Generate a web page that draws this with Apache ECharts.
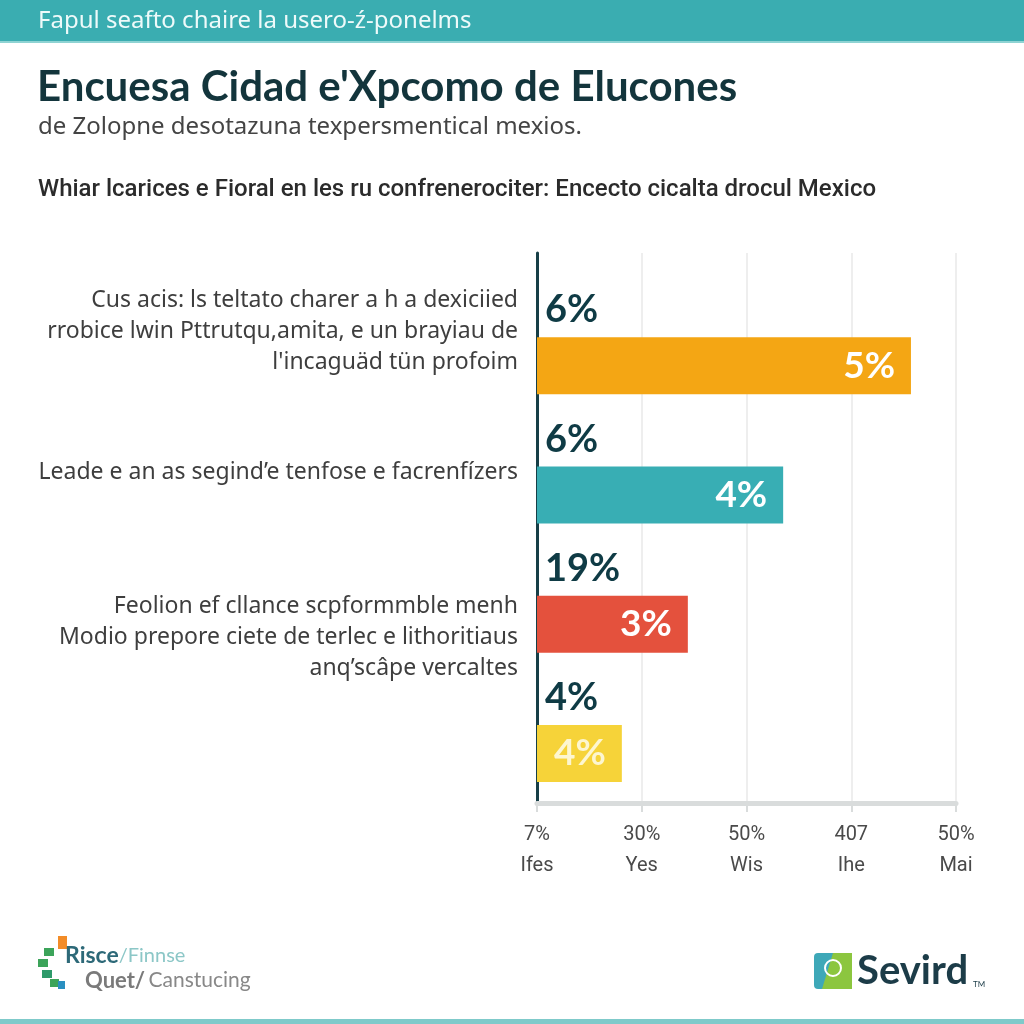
<!DOCTYPE html>
<html>
<head>
<meta charset="utf-8">
<script src="https://cdn.jsdelivr.net/npm/echarts@6/dist/echarts.min.js"></script>
<style>html,body{margin:0;padding:0;background:#fff}#c{width:1024px;height:1024px}</style>
</head>
<body>
<div id="c"></div>
<script>
// ---- data ----
var headerText = 'Fapul seafto chaire la usero-ź-ponelms';
var titleText = "Encuesa Cidad e'Xpcomo de Elucones";
var subtitleText = 'de Zolopne desotazuna texpersmentical mexios.';
var questionText = 'Whiar lcarices e Fioral en les ru confrenerociter: Encecto cicalta drocul Mexico';

var categories = [
  'Cus acis: ls teltato charer a h a dexiciied\nrrobice lwin Pttrutqu,amita, e un brayiau de\nl\'incaguäd tün profoim',
  'Leade e an as segind\u2019e tenfose e facrenfízers',
  'Feolion ef cllance scpformmble menh\nModio prepore ciete de terlec e lithoritiaus\nanq\u2019scâpe vercaltes',
  ''
];
var barValues = [3.57, 2.35, 1.44, 0.81];
var insideLabels = ['5%', '4%', '3%', '4%'];
var topLabels = ['6%', '6%', '19%', '4%'];
var barColors = ['#F4A614', '#38AEB4', '#E4513D', '#F6D339'];
var tickPct = ['7%', '30%', '50%', '407', '50%'];
var tickWord = ['Ifes', 'Yes', 'Wis', 'Ihe', 'Mai'];

// ---- chart ----
var chart = echarts.init(document.getElementById('c'), null, {renderer: 'canvas'});

// vertical nudge of each category label block (spacer height; negative = below)
var labelSpacer = [68, 44, -26, 0];

var option = {
  backgroundColor: '#ffffff',
  animation: false,
  graphic: [
    {type: 'rect', left: 0, top: 0, shape: {width: 1024, height: 41}, style: {fill: '#3AADB1'}, z: 0},
    {type: 'rect', left: 0, top: 41, shape: {width: 1024, height: 2}, style: {fill: '#8fd3d3'}, z: 0},
    {type: 'text', left: 38, top: 9, style: {text: headerText, fill: '#eefafa', font: '24px "Noto Sans", Roboto, sans-serif'}},
    {type: 'text', left: 37, top: 66, style: {text: titleText, fill: '#13353c', font: 'bold 42px Lato, "Open Sans", sans-serif'}},
    {type: 'text', left: 38, top: 115, style: {text: subtitleText, fill: '#444', font: '24px "Noto Sans", Roboto, sans-serif'}},
    {type: 'text', left: 38, top: 178, style: {text: questionText, fill: '#2b2b2b', font: '500 24px Roboto, "Noto Sans", sans-serif'}},
    // footer left logo
    {type: 'rect', left: 58, top: 936, shape: {width: 9, height: 13}, style: {fill: '#F28C28'}},
    {type: 'rect', left: 44, top: 948, shape: {width: 10, height: 8}, style: {fill: '#3CA45A'}},
    {type: 'rect', left: 38, top: 959, shape: {width: 10, height: 8}, style: {fill: '#3CA45A'}},
    {type: 'rect', left: 42, top: 970, shape: {width: 10, height: 8}, style: {fill: '#2E9A6A'}},
    {type: 'rect', left: 50, top: 979, shape: {width: 9, height: 8}, style: {fill: '#3CA45A'}},
    {type: 'rect', left: 58, top: 981, shape: {width: 7, height: 8}, style: {fill: '#2a8fc0'}},
    {type: 'text', left: 65, top: 944, style: {
      text: '{a|Risce}{b|/Finnse}\n{c|Quet/} {d|Canstucing}',
      rich: {
        a: {font: 'bold 23px Lato, sans-serif', fill: '#2d6978', lineHeight: 25},
        b: {font: '20px Lato, sans-serif', fill: '#8cc7c7', lineHeight: 25},
        c: {font: 'bold 22px Lato, sans-serif', fill: '#7a7a7a', lineHeight: 25, padding: [0,0,0,20]},
        d: {font: '21px Lato, sans-serif', fill: '#888', lineHeight: 25}
      }
    }},
    // footer right logo
    {type: 'rect', left: 814, top: 953, shape: {width: 38, height: 36, r: 4}, style: {fill: '#3EA8B8'}},
    {type: 'polygon', shape: {points: [[833, 953], [852, 953], [852, 989], [822, 989]]}, style: {fill: '#8CC63F'}},
    {type: 'circle', shape: {cx: 833, cy: 968, r: 8}, style: {fill: 'none', stroke: '#ffffff', lineWidth: 2}},
    {type: 'text', left: 857, top: 951, style: {text: 'Sevird', fill: '#1c3c48', font: 'bold 40px Lato, "Open Sans", sans-serif'}},
    {type: 'text', left: 973, top: 980, style: {text: 'TM', fill: '#1c3c48', font: '8px Lato, sans-serif'}},
    {type: 'rect', left: 0, top: 1019, shape: {width: 1024, height: 5}, style: {fill: '#7fcaca'}}
  ],
  grid: [
    {left: 537, right: 68, top: 253, bottom: 221, containLabel: false},
    {left: 537, right: 68, top: 301, bottom: 206, containLabel: false}
  ],
  xAxis: [
    {
      gridIndex: 0, type: 'value', min: 0, max: 4, interval: 1,
      axisLine: {show: true, lineStyle: {color: '#d9dcdc', width: 5}},
      axisTick: {show: true, length: 9, lineStyle: {color: '#d9dcdc', width: 2}},
      splitLine: {show: true, lineStyle: {color: '#e8e8e8', width: 1.5}},
      axisLabel: {
        margin: 16,
        lineHeight: 31,
        color: '#4a4a4a',
        fontSize: 20,
        fontFamily: 'Roboto, "Noto Sans", sans-serif',
        formatter: function (v) {
          var i = Math.round(v);
          return tickPct[i] + '\n' + tickWord[i];
        }
      }
    },
    {gridIndex: 1, type: 'value', min: 0, max: 4, interval: 1, show: false}
  ],
  yAxis: [
    {
      gridIndex: 0, type: 'value', min: 0, max: 1,
      axisLine: {show: true, onZero: false, lineStyle: {color: '#173f47', width: 3}},
      axisTick: {show: false}, axisLabel: {show: false}, splitLine: {show: false}
    },
    {
      gridIndex: 1, type: 'category', inverse: true, data: categories,
      axisLine: {show: false}, axisTick: {show: false}, splitLine: {show: false},
      axisLabel: {
        margin: 19, align: 'right', color: '#3e3e3e', fontSize: 23, lineHeight: 31,
        fontFamily: '"Noto Sans", Roboto, sans-serif',
        formatter: function (v, i) {
          var s = labelSpacer[i];
          if (!v) return '';
          if (s > 0) return v + '\n{sp' + i + '| }';
          if (s < 0) return '{sp' + i + '| }\n' + v;
          return v;
        },
        rich: {
          sp0: {height: 68, lineHeight: 68, fontSize: 1},
          sp1: {height: 44, lineHeight: 44, fontSize: 1},
          sp2: {height: 26, lineHeight: 26, fontSize: 1}
        }
      }
    }
  ],
  series: [
    {
      type: 'bar', xAxisIndex: 1, yAxisIndex: 1, barWidth: 57,
      data: barValues.map(function (v, i) {
        return {
          value: v,
          itemStyle: {color: barColors[i]},
          label: {color: i === 3 ? '#fdf6d0' : '#ffffff'}
        };
      }),
      label: {
        show: true, position: 'insideRight', distance: 16,
        fontSize: 37, fontWeight: 'bold', fontFamily: 'Lato, Roboto, sans-serif',
        formatter: function (p) { return insideLabels[p.dataIndex]; }
      },
      z: 3
    },
    {
      type: 'bar', xAxisIndex: 1, yAxisIndex: 1, barWidth: 57, barGap: '-100%',
      itemStyle: {color: 'rgba(0,0,0,0)'},
      data: barValues.slice(),
      label: {
        show: true, position: [8, -8], align: 'left', verticalAlign: 'bottom',
        color: '#0f3b45', fontSize: 38, fontWeight: 'bold', lineHeight: 38,
        fontFamily: 'Lato, Roboto, sans-serif',
        formatter: function (p) { return topLabels[p.dataIndex]; }
      },
      silent: true, z: 4
    }
  ]
};
chart.setOption(option);
</script>
</body>
</html>
